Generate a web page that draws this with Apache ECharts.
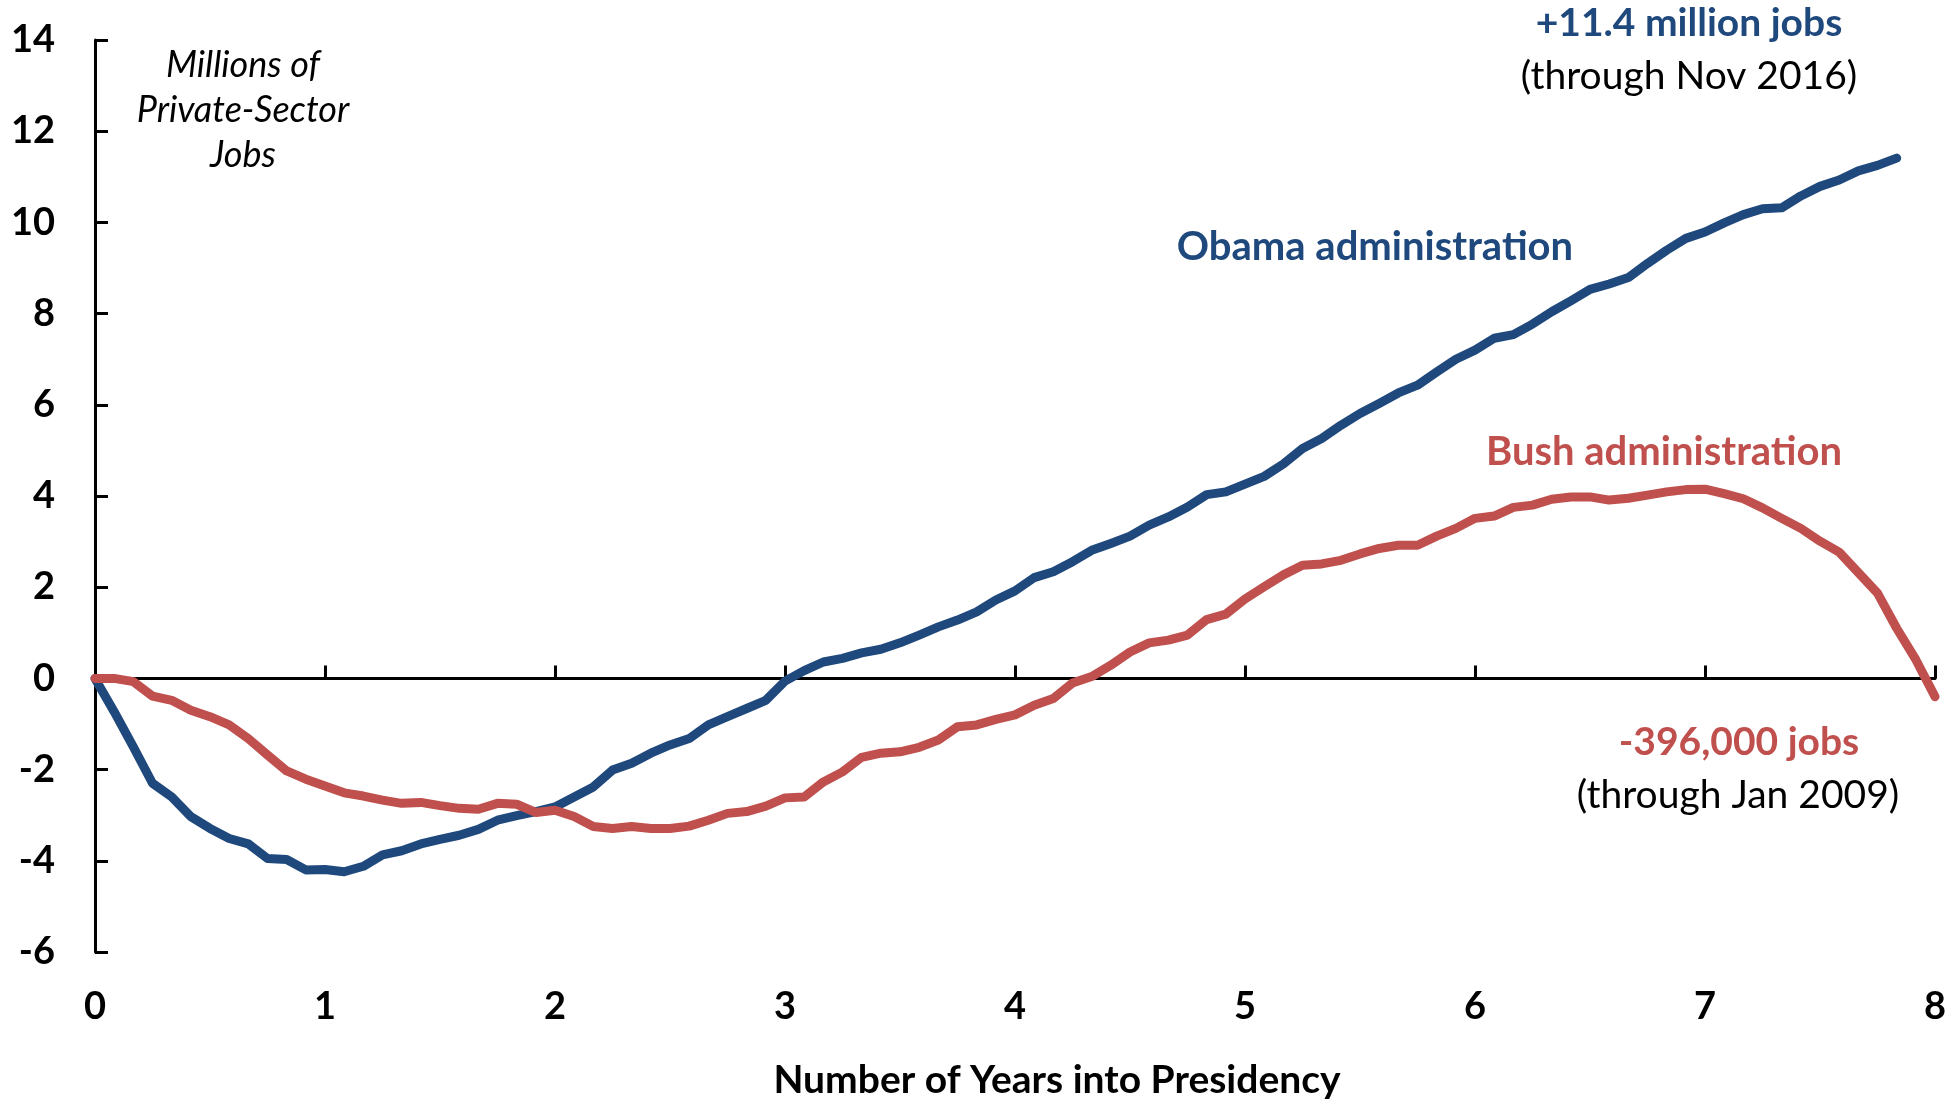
<!DOCTYPE html>
<html>
<head>
<meta charset="utf-8">
<script src="https://cdn.jsdelivr.net/npm/echarts@6/dist/echarts.min.js"></script>
<style>
    html, body { margin: 0; padding: 0; background: #fff; }
    #chart { width: 1959px; height: 1102px; }
</style>
</head>
<body>
<div id="chart"></div>
<script>
// cumulative change in private-sector jobs (millions), monthly from inauguration
const obamaJobs = [
    0, -0.73, -1.5, -2.3, -2.6, -3.03, -3.29, -3.51, -3.63, -3.95, -3.97, -4.2,
    -4.19, -4.24, -4.12, -3.87, -3.78, -3.63, -3.53, -3.44, -3.31, -3.11, -3.01, -2.92,
    -2.82, -2.6, -2.38, -2.01, -1.86, -1.64, -1.46, -1.32, -1.02, -0.84, -0.66, -0.48,
    -0.06, 0.17, 0.36, 0.44, 0.56, 0.64, 0.78, 0.95, 1.13, 1.28, 1.46, 1.72,
    1.92, 2.21, 2.34, 2.56, 2.81, 2.96, 3.12, 3.36, 3.54, 3.76, 4.03, 4.09,
    4.26, 4.43, 4.7, 5.04, 5.26, 5.55, 5.81, 6.03, 6.26, 6.43, 6.72, 7.0,
    7.2, 7.46, 7.54, 7.77, 8.04, 8.28, 8.53, 8.65, 8.79, 9.1, 9.39, 9.65,
    9.79, 9.99, 10.17, 10.3, 10.32, 10.58, 10.79, 10.93, 11.13, 11.25, 11.41,
]
const bushJobs = [
    0, 0, -0.07, -0.39, -0.48, -0.7, -0.84, -1.02, -1.32, -1.68, -2.03, -2.21,
    -2.36, -2.51, -2.58, -2.67, -2.74, -2.72, -2.79, -2.85, -2.87, -2.74, -2.76, -2.94,
    -2.89, -3.03, -3.25, -3.29, -3.25, -3.29, -3.29, -3.24, -3.11, -2.96, -2.92, -2.8,
    -2.62, -2.6, -2.27, -2.05, -1.73, -1.64, -1.61, -1.51, -1.35, -1.06, -1.02, -0.9,
    -0.8, -0.59, -0.44, -0.1, 0.04, 0.29, 0.58, 0.78, 0.84, 0.95, 1.29, 1.41,
    1.74, 2.01, 2.27, 2.48, 2.51, 2.59, 2.73, 2.85, 2.92, 2.92, 3.12, 3.29,
    3.51, 3.56, 3.75, 3.8, 3.93, 3.98, 3.98, 3.91, 3.95, 4.02, 4.09, 4.14,
    4.15, 4.05, 3.94, 3.74, 3.51, 3.29, 3.01, 2.77, 2.32, 1.87, 1.1, 0.41,
    -0.4,
]
const monthsPerYear = 12
const yearTicks = { min: 0, max: 8, interval: 1 }
const jobTicks = { min: -6, max: 14, interval: 2 }

const BLUE = '#1f497d'
const RED = '#c0504d'
const FONT = 'Lato, "Noto Sans", sans-serif'

const toPoints = (values) => values.map((v, i) => [i / monthsPerYear, v])

const chart = echarts.init(document.getElementById('chart'))

const labelText = (text, x, y, color, weight, size, style) => ({
    type: 'text',
    x,
    y,
    style: {
        text,
        fill: color,
        fontFamily: FONT,
        fontWeight: weight,
        fontSize: size,
        fontStyle: style || 'normal',
        textAlign: 'center',
        textVerticalAlign: 'middle',
        lineHeight: 45,
    },
})

const option = {
    animation: false,
    backgroundColor: '#fff',
    grid: { left: 95, right: 24, top: 40, bottom: 150 },
    xAxis: [
        {
            type: 'value',
            ...yearTicks,
            position: 'bottom',
            axisLine: { show: false, onZero: false },
            axisTick: { show: false },
            splitLine: { show: false },
            axisLabel: {
                margin: 36,
                color: '#000',
                fontFamily: FONT,
                fontWeight: 'bold',
                fontSize: 38,
            },
        },
        {
            type: 'value',
            ...yearTicks,
            position: 'bottom',
            axisLine: { show: true, onZero: true, lineStyle: { color: '#000', width: 3 } },
            axisTick: { show: true, inside: true, length: 13, lineStyle: { color: '#000', width: 3 } },
            axisLabel: { show: false },
            splitLine: { show: false },
        },
    ],
    yAxis: {
        type: 'value',
        ...jobTicks,
        axisLine: { show: true, lineStyle: { color: '#000', width: 3 } },
        axisTick: { show: true, inside: true, length: 13, lineStyle: { color: '#000', width: 3 } },
        splitLine: { show: false },
        axisLabel: {
            margin: 40,
            color: '#000',
            fontFamily: FONT,
            fontWeight: 'bold',
            fontSize: 38,
        },
    },
    series: [
        {
            name: 'Obama administration',
            type: 'line',
            data: toPoints(obamaJobs),
            showSymbol: false,
            lineStyle: { color: BLUE, width: 9, cap: 'round', join: 'round' },
            z: 3,
        },
        {
            name: 'Bush administration',
            type: 'line',
            data: toPoints(bushJobs),
            showSymbol: false,
            lineStyle: { color: RED, width: 9, cap: 'round', join: 'round' },
            z: 4,
        },
    ],
    graphic: [
        labelText('Millions of\nPrivate-Sector\nJobs', 243, 110, '#000', 'normal', 36, 'italic'),
        labelText('Obama administration', 1375, 247, BLUE, 'bold', 40),
        labelText('Bush administration', 1664, 452, RED, 'bold', 40),
        labelText('+11.4 million jobs', 1689, 23, BLUE, 'bold', 39),
        labelText('(through Nov 2016)', 1689, 76, '#000', 'normal', 39),
        labelText('-396,000 jobs', 1739, 742, RED, 'bold', 39),
        labelText('(through Jan 2009)', 1738, 795, '#000', 'normal', 39),
        labelText('Number of Years into Presidency', 1057, 1080, '#000', 'bold', 39),
    ],
}

chart.setOption(option)
</script>
</body>
</html>
